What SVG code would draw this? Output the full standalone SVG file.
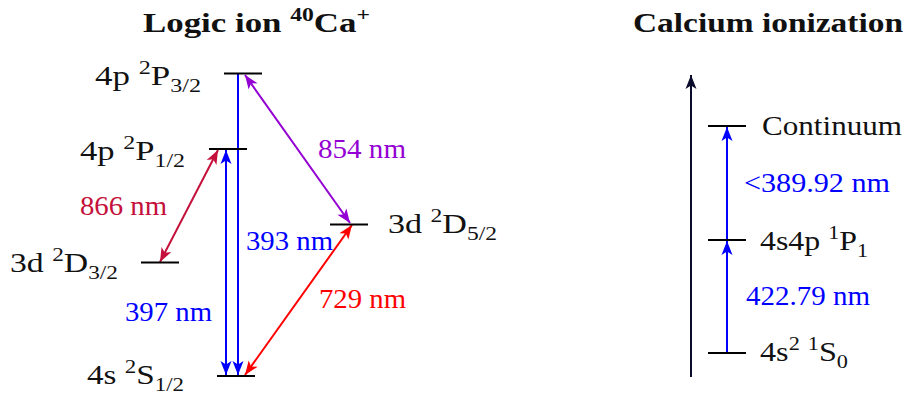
<svg xmlns="http://www.w3.org/2000/svg" width="907" height="396" viewBox="0 0 907 396">
<style>
text{font-family:"Liberation Serif","DejaVu Serif",serif;font-size:27.5px;fill:#111}
.title{font-weight:bold;font-size:28px}
.lvl{stroke:#000;stroke-width:2.2}
.tr{fill:none;stroke-width:2}
.sup{font-size:19px}
</style>
<defs>
<marker id="mb" viewBox="-15 -6 16 12" refX="0" refY="0" markerWidth="16" markerHeight="12" markerUnits="userSpaceOnUse" orient="auto-start-reverse"><path d="M0,0 L-14,-5.5 L-10.5,0 L-14,5.5 Z" fill="#0000ff"/></marker>
<marker id="mp" viewBox="-15 -6 16 12" refX="0" refY="0" markerWidth="16" markerHeight="12" markerUnits="userSpaceOnUse" orient="auto-start-reverse"><path d="M0,0 L-14,-5.5 L-10.5,0 L-14,5.5 Z" fill="#9400d3"/></marker>
<marker id="mr" viewBox="-15 -6 16 12" refX="0" refY="0" markerWidth="16" markerHeight="12" markerUnits="userSpaceOnUse" orient="auto-start-reverse"><path d="M0,0 L-14,-5.5 L-10.5,0 L-14,5.5 Z" fill="#ff0000"/></marker>
<marker id="mc" viewBox="-15 -6 16 12" refX="0" refY="0" markerWidth="16" markerHeight="12" markerUnits="userSpaceOnUse" orient="auto-start-reverse"><path d="M0,0 L-14,-5.5 L-10.5,0 L-14,5.5 Z" fill="#c4103a"/></marker>
<marker id="mk" viewBox="-15 -6 16 12" refX="0" refY="0" markerWidth="16" markerHeight="12" markerUnits="userSpaceOnUse" orient="auto-start-reverse"><path d="M0,0 L-14,-5.5 L-10.5,0 L-14,5.5 Z" fill="#0b0b2b"/></marker>
</defs>

<text class="title" x="143" y="32" textLength="227" lengthAdjust="spacingAndGlyphs">Logic ion <tspan class="sup" dy="-11">40</tspan><tspan dy="11">Ca</tspan><tspan class="sup" dy="-11">+</tspan></text>
<text class="title" x="633" y="32" textLength="270" lengthAdjust="spacingAndGlyphs">Calcium ionization</text>

<g id="connectors">
<line class="tr" x1="226" y1="150" x2="226" y2="375" stroke="#0000ff" marker-start="url(#mb)" marker-end="url(#mb)"/>
<line class="tr" x1="238" y1="73" x2="238" y2="375" stroke="#0000ff" marker-end="url(#mb)"/>
<line class="tr" x1="245" y1="75" x2="350" y2="223" stroke="#9400d3" marker-start="url(#mp)" marker-end="url(#mp)"/>
<line class="tr" x1="352" y1="225" x2="245" y2="375" stroke="#ff0000" marker-start="url(#mr)" marker-end="url(#mr)"/>
<line class="tr" x1="218" y1="150" x2="160" y2="262" stroke="#c4103a" marker-start="url(#mc)" marker-end="url(#mc)"/>
<line class="tr" x1="691" y1="377" x2="691" y2="75" stroke="#0b0b2b" marker-end="url(#mk)"/>
<line class="tr" x1="727" y1="353" x2="727" y2="241" stroke="#0000ff" marker-end="url(#mb)"/>
<line class="tr" x1="727" y1="240" x2="727" y2="127" stroke="#0000ff" marker-end="url(#mb)"/>
</g>

<g id="P32"><line class="lvl" x1="224" y1="73.5" x2="262" y2="73.5"/><text x="95" y="85" textLength="106" lengthAdjust="spacingAndGlyphs">4p <tspan class="sup" dy="-11">2</tspan><tspan dy="11">P</tspan><tspan class="sup" dy="7">3/2</tspan></text></g>
<g id="P12"><line class="lvl" x1="209" y1="149" x2="247" y2="149"/><text x="80" y="160" textLength="105" lengthAdjust="spacingAndGlyphs">4p <tspan class="sup" dy="-11">2</tspan><tspan dy="11">P</tspan><tspan class="sup" dy="7">1/2</tspan></text></g>
<g id="D32"><line class="lvl" x1="141" y1="262.5" x2="179" y2="262.5"/><text x="10" y="272" textLength="108" lengthAdjust="spacingAndGlyphs">3d <tspan class="sup" dy="-11">2</tspan><tspan dy="11">D</tspan><tspan class="sup" dy="7">3/2</tspan></text></g>
<g id="D52"><line class="lvl" x1="330" y1="224.5" x2="368" y2="224.5"/><text x="388" y="233" textLength="109" lengthAdjust="spacingAndGlyphs">3d <tspan class="sup" dy="-11">2</tspan><tspan dy="11">D</tspan><tspan class="sup" dy="7">5/2</tspan></text></g>
<g id="S12"><line class="lvl" x1="217" y1="376" x2="255" y2="376"/><text x="87" y="384" textLength="97" lengthAdjust="spacingAndGlyphs">4s <tspan class="sup" dy="-11">2</tspan><tspan dy="11">S</tspan><tspan class="sup" dy="7">1/2</tspan></text></g>

<g id="labels-left">
<text x="80" y="215" style="fill:#c4103a" textLength="87" lengthAdjust="spacingAndGlyphs">866 nm</text>
<text x="246" y="250" style="fill:#0000ff" textLength="87" lengthAdjust="spacingAndGlyphs">393 nm</text>
<text x="125" y="321" style="fill:#0000ff" textLength="87" lengthAdjust="spacingAndGlyphs">397 nm</text>
<text x="319" y="308" style="fill:#ff0000" textLength="87" lengthAdjust="spacingAndGlyphs">729 nm</text>
<text x="318" y="158" style="fill:#9400d3" textLength="88" lengthAdjust="spacingAndGlyphs">854 nm</text>
</g>

<g id="Cont"><line class="lvl" x1="708" y1="126" x2="746" y2="126"/><text x="762" y="135" textLength="140" lengthAdjust="spacingAndGlyphs">Continuum</text></g>
<g id="P1"><line class="lvl" x1="708" y1="240" x2="746" y2="240"/><text x="760" y="250" textLength="108" lengthAdjust="spacingAndGlyphs">4s4p <tspan class="sup" dy="-11">1</tspan><tspan dy="11">P</tspan><tspan class="sup" dy="7">1</tspan></text></g>
<g id="S0"><line class="lvl" x1="708" y1="353" x2="746" y2="353"/><text x="760" y="361" textLength="88" lengthAdjust="spacingAndGlyphs">4s<tspan class="sup" dy="-11">2</tspan><tspan dy="11"> </tspan><tspan class="sup" dy="-11">1</tspan><tspan dy="11">S</tspan><tspan class="sup" dy="7">0</tspan></text></g>
<g id="labels-right">
<text x="744" y="192" style="fill:#0000ff" textLength="146" lengthAdjust="spacingAndGlyphs">&lt;389.92 nm</text>
<text x="746" y="305" style="fill:#0000ff" textLength="124" lengthAdjust="spacingAndGlyphs">422.79 nm</text>
</g>
</svg>
